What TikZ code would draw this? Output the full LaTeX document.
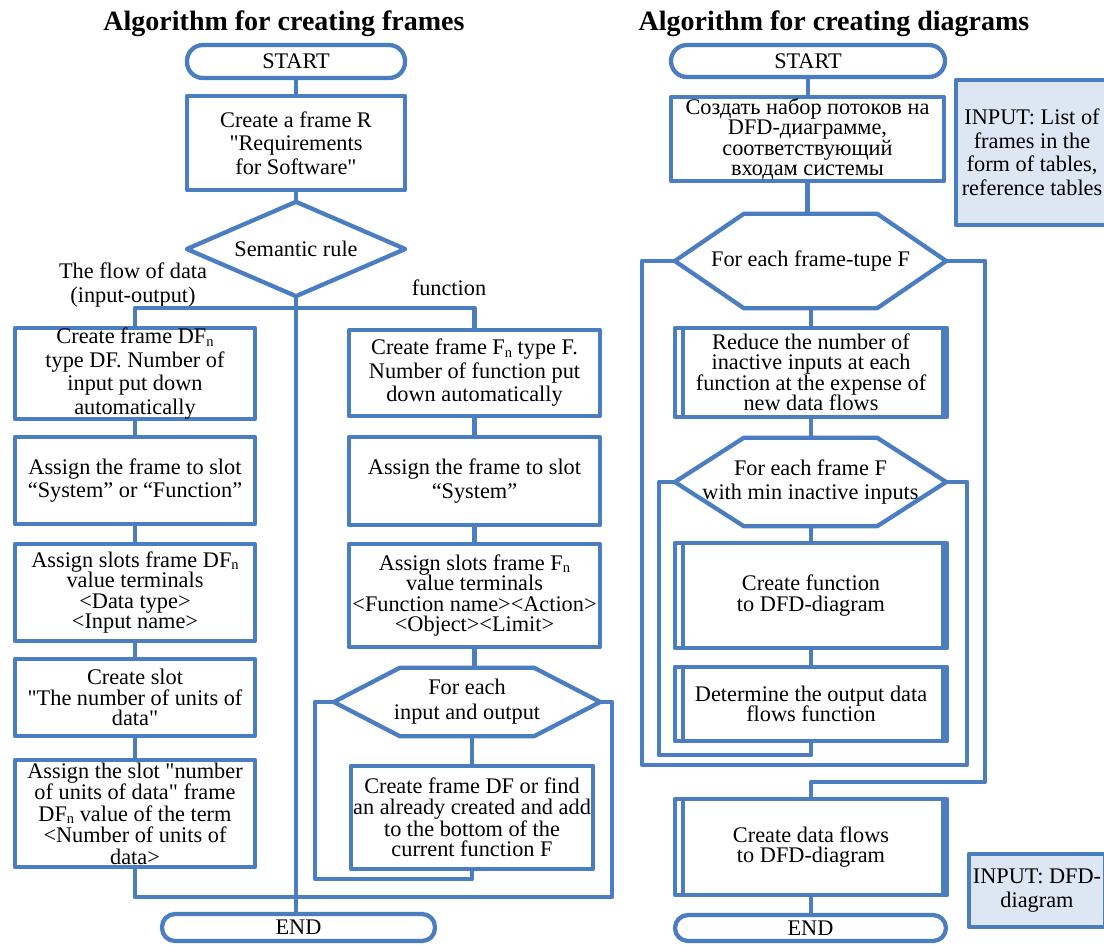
\documentclass[tikz,border=0pt]{standalone}
\usepackage{fontspec}
\setmainfont{Liberation Serif}
\definecolor{myblue}{RGB}{74,126,193}
\definecolor{infill}{RGB}{221,230,243}
\newcommand\fsn{\fontsize{22.3}{23.5}\selectfont}
\newcommand\fst{\fontsize{22.3}{20.5}\selectfont}
\newcommand\sq{\textquotedbl}
\newcommand\subn{\raisebox{-2.5pt}{\fontsize{14.5}{14.5}\selectfont n}}
\tikzset{
  conn/.style={draw=myblue, line width=4.3pt, line join=round},
  box/.style={conn, rectangle, align=center, inner sep=0pt, font=\fsn},
  tbox/.style={box, font=\fst},
  plain/.style={align=center, inner sep=0pt, font=\fsn},
  inbox/.style={box, fill=infill},
  ttl/.style={inner sep=0pt, anchor=base, font=\bfseries\fontsize{28}{30}\selectfont}
}
\begin{document}
\begin{tikzpicture}[x=1pt,y=-1pt]
\useasboundingbox (0,0) rectangle (1104,945);
\fill[white] (0,0) rectangle (1104,945);
\clip (0,0) rectangle (1104,945);

% ---------- titles
\node[ttl] (t1) at (284,30) {Algorithm for creating frames};
\node[ttl] (t2) at (834,30) {Algorithm for creating diagrams};

% ---------- left algorithm
\node[box, rounded corners=16pt, minimum width=218pt, minimum height=33pt] (startL) at (296,61.5) {START};
\node[box, minimum width=218pt, minimum height=94pt] (boxR) at (296,143) {Create a frame R\\\sq Requirements\\for Software\sq};
\node[plain, minimum width=218pt, minimum height=94pt] (dia) at (296,249) {Semantic rule};
\draw[conn] (dia.west) -- (dia.north) -- (dia.east) -- (dia.south) -- cycle;

\node[plain] (lblflow) at (133,285) {The flow of data\\(input-output)};
\node[plain, anchor=base] (lblfun) at (449,295) {function};

\node[box, minimum width=240pt, minimum height=87pt] (L1) at (135,373.5) {Create frame DF\subn\\type DF. Number of\\input put down\\automatically};
\node[box, minimum width=240pt, minimum height=87pt] (L2) at (135,480.5) {Assign the frame to slot\\“System” or “Function”};
\node[tbox, minimum width=240pt, minimum height=97pt] (L3) at (135,592.5) {Assign slots frame DF\subn\\value terminals\\<Data type>\\<Input name>};
\node[tbox, minimum width=240pt, minimum height=77pt] (L4) at (135,697.5) {Create slot\\\sq The number of units of\\data\sq};
\node[tbox, font=\fontsize{22.3}{21.5}\selectfont, minimum width=240pt, minimum height=107pt] (L5) at (135,813.5) {Assign the slot \sq number\\of units of data\sq{} frame\\DF\subn{} value of the term\\<Number of units of\\data>};

\node[box, minimum width=251pt, minimum height=86pt] (R1) at (474.5,373) {Create frame F\subn{} type F.\\Number of function put\\down automatically};
\node[box, minimum width=251pt, minimum height=88pt] (R2) at (474.5,481) {Assign the frame to slot\\“System”};
\node[tbox, minimum width=251pt, minimum height=103pt] (R3) at (474.5,595.5) {Assign slots frame F\subn\\value terminals\\<Function name><Action>\\<Object><Limit>};
\node[plain, font=\fontsize{22.3}{25}\selectfont, minimum width=266pt, minimum height=68pt] (hexF) at (467,702) {For each\\input and output};
\draw[conn] (hexF.west) -- ([xshift=66pt]hexF.north west) -- ([xshift=-66pt]hexF.north east) -- (hexF.east) -- ([xshift=-66pt]hexF.south east) -- ([xshift=66pt]hexF.south west) -- cycle;
\node[tbox, minimum width=242pt, minimum height=103pt] (R4) at (472,817.5) {Create frame DF or find\\an already created and add\\to the bottom of the\\current function F};

\node[box, rounded corners=13pt, minimum width=273pt, minimum height=27pt] (endL) at (298.5,927.5) {END};

\coordinate (busl) at (135,308);
\coordinate (busr) at (474.5,308);
\coordinate (lpA) at (315,879);
\coordinate (exA) at (612,897);

\draw[conn] (startL.south) -- (boxR.north);
\draw[conn] (boxR.south) -- (dia.north);
\draw[conn] (dia.south) -- (dia.south |- endL.north);
\draw[conn] (L1.north) -- (busl) -- (busr) -- (R1.north);
\draw[conn] (L1.south) -- (L2.north);
\draw[conn] (L2.south) -- (L3.north);
\draw[conn] (L3.south) -- (L4.north);
\draw[conn] (L4.south) -- (L5.north);
\draw[conn] (R1.south) -- (R2.north);
\draw[conn] (R2.south) -- (R3.north);
\draw[conn] (R3.south) -- (R3.south |- hexF.north);
\draw[conn] (R4.north |- hexF.south) -- (R4.north);
\draw[conn] (R4.south) |- (lpA) |- (hexF.west);
\draw[conn] (hexF.east) -| (exA) -| (L5.south);

% ---------- right algorithm
\node[box, rounded corners=16pt, minimum width=274pt, minimum height=32pt] (startR) at (808,61) {START};
\node[tbox, minimum width=273pt, minimum height=84pt] (boxC) at (807.5,139) {Создать набор потоков на\\DFD-диаграмме,\\соответствующий\\входам системы};
\node[plain, minimum width=271pt, minimum height=94pt] (hex1) at (810.5,261) {For each frame-tupe F};
\draw[conn] (hex1.west) -- ([xshift=69pt]hex1.north west) -- ([xshift=-69pt]hex1.north east) -- (hex1.east) -- ([xshift=-69pt]hex1.south east) -- ([xshift=69pt]hex1.south west) -- cycle;
\node[tbox, minimum width=272pt, minimum height=89pt] (red) at (811,372.5) {Reduce the number of\\inactive inputs at each\\function at the expense of\\new data flows};
\node[plain, font=\fontsize{22.3}{24}\selectfont, minimum width=271pt, minimum height=88pt] (hex2) at (810.5,482) {For each frame F\\with min inactive inputs};
\draw[conn] (hex2.west) -- ([xshift=69pt]hex2.north west) -- ([xshift=-69pt]hex2.north east) -- (hex2.east) -- ([xshift=-69pt]hex2.south east) -- ([xshift=69pt]hex2.south west) -- cycle;
\node[tbox, minimum width=272pt, minimum height=105pt] (cf) at (811,595.5) {Create function\\to DFD-diagram};
\node[tbox, minimum width=272pt, minimum height=74pt] (dt) at (811,704) {Determine the output data\\flows function};
\node[tbox, minimum width=272pt, minimum height=96pt] (dfl) at (811,847) {Create data flows\\to DFD-diagram};
\node[box, rounded corners=13pt, minimum width=271pt, minimum height=26pt] (endR) at (810.5,928) {END};
\foreach \n in {red,cf,dt,dfl}{
  \draw[conn] ([xshift=10pt]\n.north west) -- ([xshift=10pt]\n.south west);
  \draw[conn] ([xshift=-6pt]\n.north east) -- ([xshift=-6pt]\n.south east);
}

\node[inbox, minimum width=152pt, minimum height=145pt] (in1) at (1032,152.5) {INPUT: List of\\frames in the\\form of tables,\\reference tables};
\node[inbox, font=\fontsize{22.3}{24}\selectfont, minimum width=136pt, minimum height=73pt] (in2) at (1037,890.5) {INPUT: DFD-\\diagram};

\coordinate (lpB) at (659,755);
\coordinate (lpC) at (967,765);
\coordinate (lpD) at (642,765);
\coordinate (exB) at (985,782);

\draw[conn] (startR.south) -- (startR.south |- boxC.north);
\draw[conn] (boxC.south) -- (boxC.south |- hex1.north);
\draw[conn] (red.north |- hex1.south) -- (red.north);
\draw[conn] (red.south) -- (red.south |- hex2.north);
\draw[conn] (cf.north |- hex2.south) -- (cf.north);
\draw[conn] (cf.south) -- (dt.north);
\draw[conn] (dt.south) |- (lpB) |- (hex2.west);
\draw[conn] (hex2.east) -| (lpC) -- (lpD) |- (hex1.west);
\draw[conn] (hex1.east) -| (exB) -| (dfl.north);
\draw[conn] (dfl.south) -- (dfl.south |- endR.north);
\end{tikzpicture}
\end{document}
